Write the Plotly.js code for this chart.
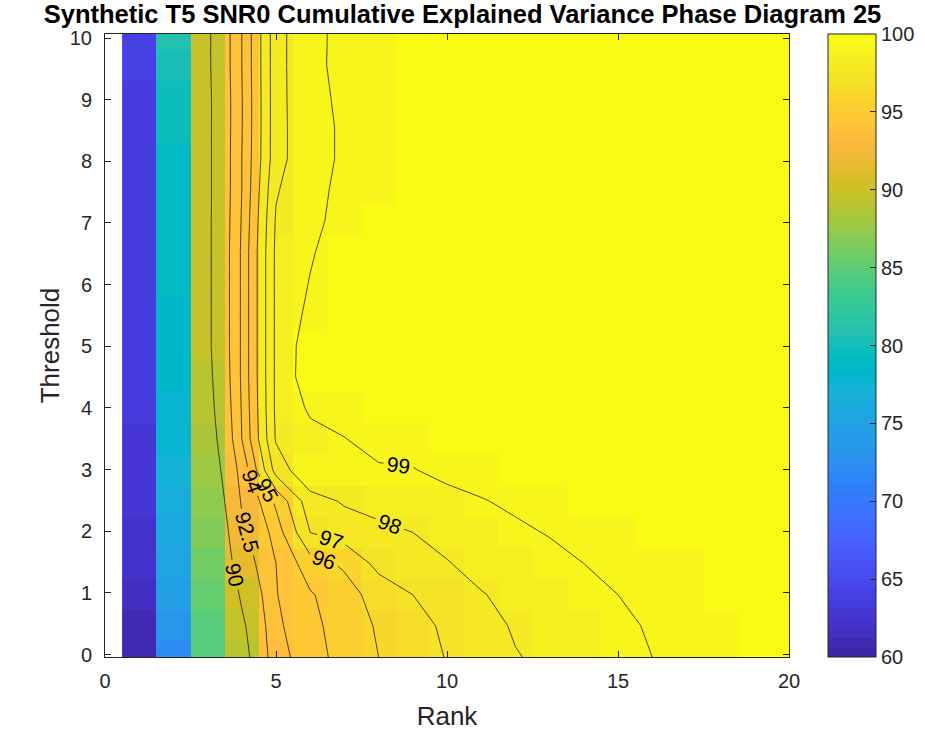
<!DOCTYPE html>
<html>
<head>
<meta charset="utf-8">
<script src="https://cdn.plot.ly/plotly-3.0.1.min.js"></script>
<style>
  html, body { margin: 0; padding: 0; background: #ffffff; }
  #chart { width: 925px; height: 735px; }
</style>
</head>
<body>
<div id="chart"></div>
<script>
// Rank (x) and threshold (y) grid
const ranks = [1, 2, 3, 4, 5, 6, 7, 8, 9, 10, 11, 12, 13, 14, 15, 16, 17, 18, 19, 20];
const thresholds = [-0.04, 0.465, 0.97, 1.476, 1.981, 2.486, 2.992, 3.497, 4.002, 4.507,
                    5.013, 5.518, 6.023, 6.528, 7.034, 7.539, 8.044, 8.549, 9.055, 9.56, 10.065];

// Cumulative explained variance (%), one row per threshold, one column per rank
const explainedVariance = [
  [60.8, 72.0, 84.5, 88.9, 93.6, 94.55, 95.4, 96.0, 96.5, 97.05, 97.5, 97.95, 98.2, 98.5, 98.8, 99.0, 99.2, 99.35, 99.45, 99.5],
  [61.2, 73.5, 84.9, 89.5, 93.8, 94.7, 95.5, 96.1, 96.6, 97.2, 97.65, 98.1, 98.35, 98.6, 98.9, 99.05, 99.2, 99.3, 99.4, 99.45],
  [61.6, 74.5, 85.3, 90.4, 93.95, 94.9, 95.6, 96.4, 97.0, 97.4, 97.95, 98.25, 98.5, 98.75, 99.0, 99.15, 99.3, 99.4, 99.45, 99.5],
  [62.0, 75.5, 86.0, 91.5, 94.0, 95.6, 96.15, 97.3, 97.6, 97.95, 98.3, 98.5, 98.75, 99.0, 99.15, 99.25, 99.35, 99.45, 99.5, 99.55],
  [62.3, 76.0, 86.7, 92.1, 94.5, 97.0, 97.5, 97.8, 98.0, 98.3, 98.6, 98.85, 99.05, 99.2, 99.3, 99.4, 99.5, 99.55, 99.6, 99.6],
  [62.6, 76.5, 87.3, 92.7, 95.2, 97.6, 98.1, 98.3, 98.5, 98.7, 98.95, 99.15, 99.3, 99.4, 99.5, 99.55, 99.6, 99.65, 99.7, 99.7],
  [62.9, 77.0, 88.0, 93.2, 97.4, 98.85, 98.88, 98.92, 98.96, 99.25, 99.35, 99.45, 99.5, 99.55, 99.6, 99.65, 99.7, 99.7, 99.75, 99.75],
  [63.1, 77.5, 88.5, 94.0, 98.1, 98.7, 98.98, 99.25, 99.35, 99.4, 99.45, 99.5, 99.55, 99.6, 99.65, 99.7, 99.7, 99.75, 99.75, 99.75],
  [63.3, 78.0, 89.0, 94.1, 98.2, 99.15, 99.3, 99.4, 99.45, 99.5, 99.55, 99.6, 99.65, 99.7, 99.7, 99.75, 99.75, 99.8, 99.8, 99.8],
  [63.4, 78.2, 89.3, 94.2, 98.2, 99.6, 99.6, 99.6, 99.62, 99.65, 99.65, 99.7, 99.7, 99.7, 99.75, 99.75, 99.75, 99.8, 99.8, 99.8],
  [63.5, 78.4, 89.5, 94.2, 98.2, 99.55, 99.6, 99.6, 99.62, 99.65, 99.65, 99.7, 99.7, 99.7, 99.75, 99.75, 99.75, 99.8, 99.8, 99.8],
  [63.6, 78.6, 89.5, 94.2, 98.2, 99.25, 99.55, 99.6, 99.62, 99.65, 99.65, 99.7, 99.7, 99.7, 99.75, 99.75, 99.75, 99.8, 99.8, 99.8],
  [63.6, 78.8, 89.5, 94.2, 98.2, 99.05, 99.5, 99.55, 99.6, 99.62, 99.65, 99.7, 99.7, 99.7, 99.75, 99.75, 99.75, 99.8, 99.8, 99.8],
  [63.7, 79.0, 89.5, 94.2, 98.2, 98.9, 99.55, 99.6, 99.6, 99.62, 99.65, 99.7, 99.7, 99.7, 99.75, 99.75, 99.75, 99.8, 99.8, 99.8],
  [63.7, 79.1, 89.5, 94.1, 98.1, 98.85, 99.2, 99.4, 99.5, 99.55, 99.6, 99.65, 99.7, 99.7, 99.75, 99.75, 99.75, 99.8, 99.8, 99.8],
  [63.7, 79.2, 89.5, 94.0, 97.9, 98.85, 99.12, 99.35, 99.45, 99.5, 99.55, 99.6, 99.65, 99.7, 99.7, 99.75, 99.75, 99.8, 99.8, 99.8],
  [63.5, 79.3, 89.5, 94.0, 97.6, 98.8, 99.08, 99.35, 99.45, 99.5, 99.55, 99.6, 99.65, 99.7, 99.7, 99.75, 99.75, 99.8, 99.8, 99.8],
  [63.4, 79.4, 89.5, 93.95, 97.6, 98.8, 99.08, 99.35, 99.45, 99.5, 99.55, 99.6, 99.65, 99.7, 99.7, 99.75, 99.75, 99.8, 99.8, 99.8],
  [63.6, 79.5, 89.5, 93.95, 97.6, 98.85, 99.1, 99.35, 99.45, 99.5, 99.55, 99.6, 99.65, 99.7, 99.7, 99.75, 99.75, 99.8, 99.8, 99.8],
  [63.8, 80.2, 89.6, 94.0, 97.6, 98.88, 99.13, 99.35, 99.45, 99.5, 99.55, 99.6, 99.65, 99.7, 99.7, 99.75, 99.75, 99.8, 99.8, 99.8],
  [63.9, 81.0, 89.6, 94.0, 97.6, 98.88, 99.12, 99.35, 99.45, 99.5, 99.55, 99.6, 99.65, 99.7, 99.7, 99.75, 99.75, 99.8, 99.8, 99.8]
];

// Contour levels that get labelled lines
const contourLevels = [90, 92.5, 94, 95, 96, 97, 98, 99];

// Colour limits and colourbar ticks
const colorLimits = [60, 100];
const colorbarTicks = [60, 65, 70, 75, 80, 85, 90, 95, 100];
const xTicks = [0, 5, 10, 15, 20];
const yTicks = [0, 1, 2, 3, 4, 5, 6, 7, 8, 9, 10];

// 64-entry parula colormap
const parula = [
  [0.2422,0.1504,0.6603],[0.2504,0.1650,0.7076],[0.2578,0.1818,0.7511],[0.2647,0.1978,0.7952],
  [0.2706,0.2147,0.8364],[0.2751,0.2342,0.8710],[0.2783,0.2559,0.8991],[0.2803,0.2782,0.9221],
  [0.2813,0.3006,0.9414],[0.2810,0.3228,0.9579],[0.2795,0.3447,0.9717],[0.2760,0.3667,0.9829],
  [0.2699,0.3892,0.9906],[0.2602,0.4123,0.9952],[0.2440,0.4358,0.9988],[0.2206,0.4603,0.9973],
  [0.1963,0.4847,0.9892],[0.1834,0.5074,0.9798],[0.1786,0.5289,0.9682],[0.1764,0.5499,0.9520],
  [0.1687,0.5703,0.9359],[0.1540,0.5902,0.9218],[0.1460,0.6091,0.9079],[0.1380,0.6276,0.8973],
  [0.1248,0.6459,0.8883],[0.1113,0.6635,0.8763],[0.0952,0.6798,0.8598],[0.0689,0.6948,0.8394],
  [0.0297,0.7082,0.8163],[0.0036,0.7203,0.7917],[0.0067,0.7312,0.7660],[0.0433,0.7411,0.7394],
  [0.0964,0.7500,0.7120],[0.1408,0.7584,0.6842],[0.1717,0.7670,0.6554],[0.1938,0.7758,0.6251],
  [0.2161,0.7843,0.5923],[0.2470,0.7918,0.5567],[0.2906,0.7973,0.5188],[0.3406,0.8008,0.4789],
  [0.3909,0.8029,0.4354],[0.4456,0.8024,0.3909],[0.5044,0.7993,0.3480],[0.5616,0.7942,0.3045],
  [0.6174,0.7876,0.2612],[0.6720,0.7793,0.2227],[0.7242,0.7698,0.1910],[0.7738,0.7598,0.1646],
  [0.8203,0.7498,0.1535],[0.8634,0.7406,0.1596],[0.9035,0.7330,0.1774],[0.9393,0.7288,0.2100],
  [0.9728,0.7298,0.2394],[0.9956,0.7434,0.2371],[0.9970,0.7659,0.2199],[0.9952,0.7893,0.2028],
  [0.9892,0.8136,0.1885],[0.9786,0.8386,0.1766],[0.9676,0.8639,0.1643],[0.9610,0.8890,0.1537],
  [0.9597,0.9135,0.1423],[0.9628,0.9373,0.1265],[0.9691,0.9606,0.1064],[0.9769,0.9839,0.0805]
];

// Stepped colourscale: each map entry covers a flat band
function steppedScale(map) {
  const n = map.length;
  const scale = [];
  map.forEach((c, k) => {
    const col = 'rgb(' + c.map(v => Math.round(v * 255)).join(',') + ')';
    scale.push([k / n, col]);
    scale.push([(k + 1) / n, col]);
  });
  return scale;
}

const fontFamily = '"Liberation Sans", Arial, Helvetica, sans-serif';
const axisColor = '#262626';
const tickSize = 20;
const labelSize = 26;

const traces = [{
  type: 'heatmap',
  x: ranks,
  y: thresholds,
  z: explainedVariance,
  zmin: colorLimits[0],
  zmax: colorLimits[1],
  zsmooth: false,
  colorscale: steppedScale(parula),
  hoverinfo: 'skip',
  colorbar: {
    x: 1.057, xanchor: 'left', xref: 'paper',
    y: 0.5, yanchor: 'middle',
    len: 1, lenmode: 'fraction',
    thickness: 48, thicknessmode: 'pixels',
    xpad: 0, ypad: 0,
    outlinewidth: 1, outlinecolor: axisColor,
    ticks: 'inside', ticklen: 6, tickcolor: axisColor, tickwidth: 1,
    tickvals: colorbarTicks,
    ticklabelstandoff: 4,
    tickfont: {family: fontFamily, size: tickSize, color: axisColor}
  }
}];

contourLevels.forEach(level => {
  traces.push({
    type: 'contour',
    x: ranks,
    y: thresholds,
    z: explainedVariance,
    autocontour: false,
    showscale: false,
    hoverinfo: 'skip',
    contours: {
      start: level, end: level, size: 1,
      coloring: 'none',
      showlabels: true,
      labelformat: '.3~g',
      labelfont: {family: fontFamily, size: 21, color: 'black'}
    },
    line: {color: 'black', width: 0.7, smoothing: 0}
  });
});

const layout = {
  width: 925,
  height: 735,
  margin: {l: 105, r: 136, t: 34, b: 78, pad: 0, autoexpand: false},
  paper_bgcolor: '#ffffff',
  plot_bgcolor: '#ffffff',
  font: {family: fontFamily, size: tickSize, color: axisColor},
  showlegend: false,
  title: {
    text: 'Synthetic T5 SNR0 Cumulative Explained Variance Phase Diagram 25',
    font: {family: fontFamily, size: 25.5, color: '#000000', weight: 'bold'},
    x: 0.5, xref: 'container', xanchor: 'center',
    y: 0.9805, yref: 'container', yanchor: 'middle'
  },
  xaxis: {
    range: [0, 20],
    tickvals: xTicks,
    ticks: 'inside', ticklen: 6, tickwidth: 1, tickcolor: axisColor,
    showline: true, linecolor: axisColor, linewidth: 1, mirror: 'ticks',
    showgrid: false, zeroline: false,
    ticklabelstandoff: 6,
    tickfont: {family: fontFamily, size: tickSize, color: axisColor},
    title: {text: 'Rank', font: {family: fontFamily, size: labelSize, color: axisColor}, standoff: 15}
  },
  yaxis: {
    range: [-0.04, 10.065],
    tickvals: yTicks,
    ticks: 'inside', ticklen: 6, tickwidth: 1, tickcolor: axisColor,
    showline: true, linecolor: axisColor, linewidth: 1, mirror: 'ticks',
    showgrid: false, zeroline: false,
    ticklabelstandoff: 8,
    tickfont: {family: fontFamily, size: tickSize, color: axisColor},
    title: {text: 'Threshold', font: {family: fontFamily, size: labelSize, color: axisColor}, standoff: 2}
  }
};

Plotly.newPlot('chart', traces, layout, {staticPlot: true, displayModeBar: false});
</script>
</body>
</html>
